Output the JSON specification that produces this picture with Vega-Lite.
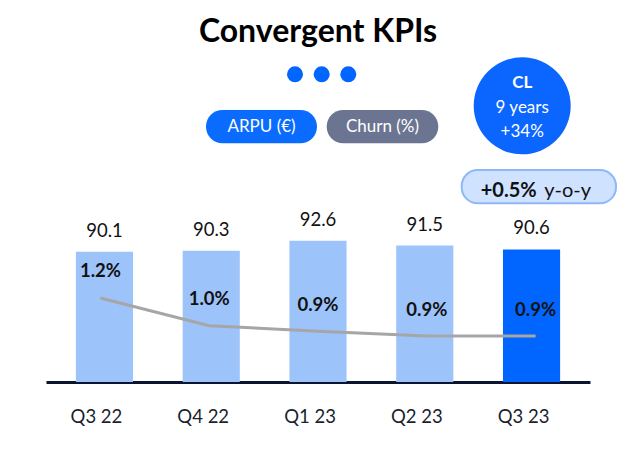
{
  "$schema": "https://vega.github.io/schema/vega-lite/v6.json",
  "width": 544,
  "height": 337,
  "autosize": {"type": "none"},
  "padding": {"left": 46, "top": 45, "right": 50, "bottom": 67},
  "background": "white",
  "config": {"view": {"stroke": null}, "font": "Lato", "text": {"font": "Lato"}},
  "title": {"text": "Convergent KPIs", "font": "Lato", "fontSize": 32, "fontWeight": "bold", "color": "#000000", "anchor": "middle", "frame": "group", "baseline": "alphabetic", "offset": -29},
  "data": {"values": [
    {"quarter": "Q3 22", "arpu": 90.1, "churn": 1.2, "churn_label": "1.2%", "period": "prior"},
    {"quarter": "Q4 22", "arpu": 90.3, "churn": 1.0, "churn_label": "1.0%", "period": "prior"},
    {"quarter": "Q1 23", "arpu": 92.6, "churn": 0.96, "churn_label": "0.9%", "period": "prior"},
    {"quarter": "Q2 23", "arpu": 91.5, "churn": 0.925, "churn_label": "0.9%", "period": "prior"},
    {"quarter": "Q3 23", "arpu": 90.6, "churn": 0.925, "churn_label": "0.9%", "period": "current"}
  ]},
  "layer": [
    {
      "layer": [
        {
          "mark": {"type": "bar"},
          "encoding": {
            "x": {"field": "quarter", "type": "nominal", "sort": null,
              "scale": {"paddingInner": 0.465, "paddingOuter": 0.28},
              "axis": {"title": null, "labelAngle": 0, "ticks": false, "grid": false, "domainColor": "#0b1530", "domainWidth": 3, "labelFont": "Lato", "labelFontSize": 18.5, "labelColor": "#1a1f2e", "labelBaseline": "alphabetic", "labelPadding": 40, "labelOffset": -8}},
            "y": {"field": "arpu", "type": "quantitative", "scale": {"domain": [60.48, 137.07], "nice": false, "zero": false}, "axis": null},
            "y2": {"datum": 60.48},
            "color": {"field": "period", "type": "nominal", "scale": {"domain": ["prior", "current"], "range": ["#9dc3fb", "#0066ff"]}, "legend": null}
          }
        },
        {
          "mark": {"type": "text", "baseline": "alphabetic", "dy": -15, "fontSize": 18.5, "color": "#111111", "font": "Lato"},
          "encoding": {
            "x": {"field": "quarter", "type": "nominal", "sort": null, "scale": {"paddingInner": 0.465, "paddingOuter": 0.28}},
            "y": {"field": "arpu", "type": "quantitative", "scale": {"domain": [60.48, 137.07], "nice": false, "zero": false}, "axis": null},
            "text": {"field": "arpu", "type": "quantitative", "format": ".1f"}
          }
        }
      ]
    },
    {
      "layer": [
        {
          "mark": {"type": "line", "color": "#a6a6a6", "strokeWidth": 3},
          "encoding": {
            "x": {"field": "quarter", "type": "nominal", "sort": null, "scale": {"paddingInner": 0.465, "paddingOuter": 0.28}, "axis": null},
            "y": {"field": "churn", "type": "quantitative", "scale": {"domain": [0.5935, 3.0267], "nice": false, "zero": false}, "axis": null}
          }
        },
        {
          "mark": {"type": "text", "baseline": "middle", "dy": -26.5, "fontSize": 18.5, "fontWeight": "bold", "color": "#111111", "font": "Lato"},
          "encoding": {
            "x": {"field": "quarter", "type": "nominal", "sort": null, "scale": {"paddingInner": 0.465, "paddingOuter": 0.28}, "axis": null},
            "y": {"field": "churn", "type": "quantitative", "scale": {"domain": [0.5935, 3.0267], "nice": false, "zero": false}, "axis": null},
            "text": {"field": "churn_label", "type": "nominal"}
          }
        }
      ]
    },
    {
      "layer": [
        {
          "data": {"values": [
            {"item": "ARPU (€)", "x_start": 1.9506, "x_end": 2.9903, "y_low": 114.73, "y_high": 122.30},
            {"item": "Churn (%)", "x_start": 3.0811, "x_end": 4.1263, "y_low": 114.73, "y_high": 122.30}
          ]},
          "mark": {"type": "rect", "cornerRadius": 16.5},
          "encoding": {
            "x": {"field": "x_start", "type": "quantitative", "scale": {"domain": [0.4521, 5.5472], "nice": false, "zero": false}, "axis": null},
            "x2": {"field": "x_end"},
            "y": {"field": "y_low", "type": "quantitative", "scale": {"domain": [60.48, 137.07], "nice": false, "zero": false}, "axis": null},
            "y2": {"field": "y_high"},
            "color": {"field": "item", "type": "nominal", "scale": {"domain": ["ARPU (€)", "Churn (%)"], "range": ["#0a6cff", "#6b7591"]}, "legend": null}
          }
        },
        {
          "data": {"values": [
            {"item": "y-o-y", "x_start": 4.3455, "x_end": 5.7907, "y_low": 101.09, "y_high": 108.66}
          ]},
          "mark": {"type": "rect", "cornerRadius": 16, "fill": "#cfe2ff", "stroke": "#8fb8f7", "strokeWidth": 2},
          "encoding": {
            "x": {"field": "x_start", "type": "quantitative", "scale": {"domain": [0.4521, 5.5472], "nice": false, "zero": false}, "axis": null},
            "x2": {"field": "x_end"},
            "y": {"field": "y_low", "type": "quantitative", "scale": {"domain": [60.48, 137.07], "nice": false, "zero": false}, "axis": null},
            "y2": {"field": "y_high"}
          }
        },
        {
          "data": {"values": [
            {"x": 2.7842, "y": 130.41},
            {"x": 3.0343, "y": 130.41},
            {"x": 3.2834, "y": 130.41}
          ]},
          "mark": {"type": "point", "shape": "circle", "filled": true, "size": 256, "color": "#0066ff", "opacity": 1},
          "encoding": {
            "x": {"field": "x", "type": "quantitative", "scale": {"domain": [0.4521, 5.5472], "nice": false, "zero": false}, "axis": null},
            "y": {"field": "y", "type": "quantitative", "scale": {"domain": [60.48, 137.07], "nice": false, "zero": false}, "axis": null}
          }
        },
        {
          "data": {"values": [
            {"x": 4.9122, "y": 123.25}
          ]},
          "mark": {"type": "point", "shape": "circle", "filled": true, "size": 9409, "color": "#0a66ff", "opacity": 1},
          "encoding": {
            "x": {"field": "x", "type": "quantitative", "scale": {"domain": [0.4521, 5.5472], "nice": false, "zero": false}, "axis": null},
            "y": {"field": "y", "type": "quantitative", "scale": {"domain": [60.48, 137.07], "nice": false, "zero": false}, "axis": null}
          }
        },
        {
          "data": {"values": [
            {"label": "ARPU (€)", "x": 2.4705, "y": 118.37},
            {"label": "Churn (%)", "x": 3.6037, "y": 118.37},
            {"label": "9 years", "x": 4.9122, "y": 122.68},
            {"label": "+34%", "x": 4.9122, "y": 117.23}
          ]},
          "mark": {"type": "text", "align": "center", "baseline": "middle", "fontSize": 17, "color": "#ffffff", "font": "Lato"},
          "encoding": {
            "x": {"field": "x", "type": "quantitative", "scale": {"domain": [0.4521, 5.5472], "nice": false, "zero": false}, "axis": null},
            "y": {"field": "y", "type": "quantitative", "scale": {"domain": [60.48, 137.07], "nice": false, "zero": false}, "axis": null},
            "text": {"field": "label", "type": "nominal"}
          }
        },
        {
          "data": {"values": [
            {"label": "CL", "x": 4.9122, "y": 128.37}
          ]},
          "mark": {"type": "text", "align": "center", "baseline": "middle", "fontSize": 17, "fontWeight": "bold", "color": "#ffffff", "font": "Lato"},
          "encoding": {
            "x": {"field": "x", "type": "quantitative", "scale": {"domain": [0.4521, 5.5472], "nice": false, "zero": false}, "axis": null},
            "y": {"field": "y", "type": "quantitative", "scale": {"domain": [60.48, 137.07], "nice": false, "zero": false}, "axis": null},
            "text": {"field": "label", "type": "nominal"}
          }
        },
        {
          "data": {"values": [
            {"label": "+0.5%", "x": 5.0479, "y": 102.46}
          ]},
          "mark": {"type": "text", "align": "right", "baseline": "alphabetic", "fontSize": 20, "fontWeight": "bold", "color": "#111111", "font": "Lato"},
          "encoding": {
            "x": {"field": "x", "type": "quantitative", "scale": {"domain": [0.4521, 5.5472], "nice": false, "zero": false}, "axis": null},
            "y": {"field": "y", "type": "quantitative", "scale": {"domain": [60.48, 137.07], "nice": false, "zero": false}, "axis": null},
            "text": {"field": "label", "type": "nominal"}
          }
        },
        {
          "data": {"values": [
            {"label": "y-o-y", "x": 5.1191, "y": 102.46}
          ]},
          "mark": {"type": "text", "align": "left", "baseline": "alphabetic", "fontSize": 20, "color": "#111111", "font": "Lato"},
          "encoding": {
            "x": {"field": "x", "type": "quantitative", "scale": {"domain": [0.4521, 5.5472], "nice": false, "zero": false}, "axis": null},
            "y": {"field": "y", "type": "quantitative", "scale": {"domain": [60.48, 137.07], "nice": false, "zero": false}, "axis": null},
            "text": {"field": "label", "type": "nominal"}
          }
        }
      ]
    }
  ],
  "resolve": {"scale": {"x": "independent", "y": "independent", "color": "independent"}, "axis": {"x": "independent", "y": "independent"}}
}
